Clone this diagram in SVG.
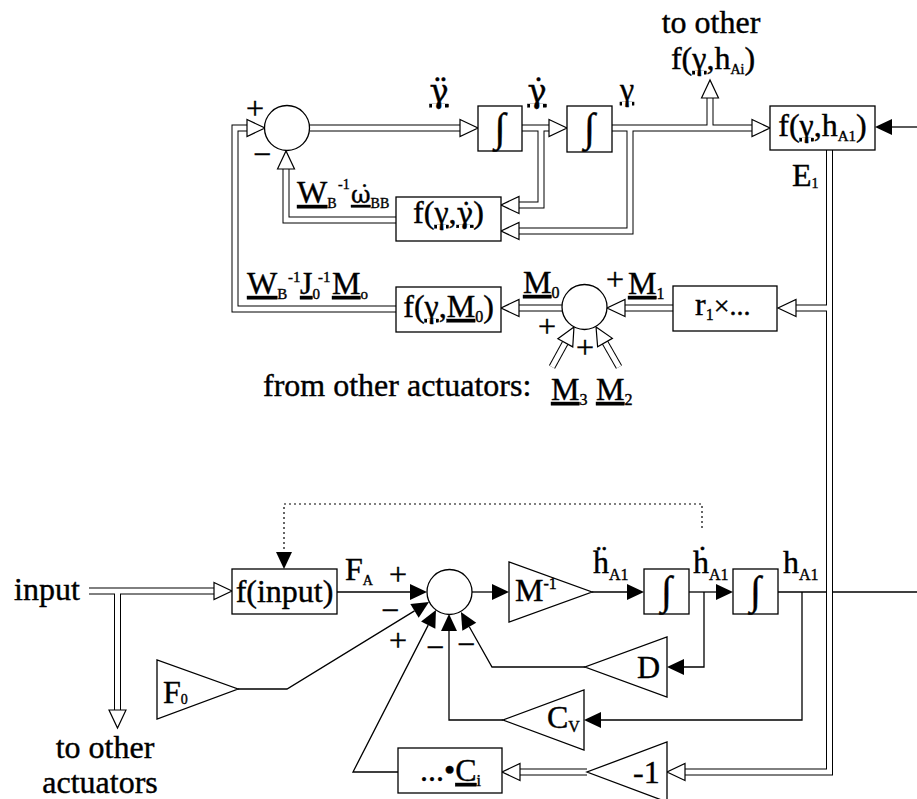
<svg xmlns="http://www.w3.org/2000/svg" width="917" height="799" viewBox="0 0 917 799">
<style>
.t{font-family:"Liberation Serif","DejaVu Serif",serif;font-size:32px;fill:#000;stroke:#000;stroke-width:0.4}
.g{font-family:"DejaVu Serif",serif}
.s{font-size:16px}
.u{text-decoration:underline;text-decoration-skip-ink:none}
.i{font-size:40px}
.box{fill:#fff;stroke:#000;stroke-width:1.3}
.ln{fill:none;stroke:#000;stroke-width:1.3}
.dot{fill:none;stroke:#000;stroke-width:1.2;stroke-dasharray:2 3}
.pb{fill:none;stroke:#000;stroke-width:7}
.pw{fill:none;stroke:#fff;stroke-width:5}
</style>
<defs>
<marker id="ho" markerUnits="userSpaceOnUse" markerWidth="20" markerHeight="20" refX="0" refY="9" orient="auto" overflow="visible"><path d="M0,0.5 L18,9 L0,17.5 Z" fill="#fff" stroke="#000" stroke-width="1.2"/></marker>
<marker id="hf" markerUnits="userSpaceOnUse" markerWidth="18" markerHeight="18" refX="0" refY="8" orient="auto" overflow="visible"><path d="M0,0 L17,8 L0,16 Z" fill="#000"/></marker>
</defs>
<rect width="917" height="799" fill="#fff"/>
<g id="connectors">
  <g id="thin">
    <path class="ln" d="M917,127 H892" marker-end="url(#hf)"/>
    <path class="ln" d="M337,592 H410" marker-end="url(#hf)"/>
    <path class="ln" d="M472,592 H492" marker-end="url(#hf)"/>
    <path class="ln" d="M592,592 H627" marker-end="url(#hf)"/>
    <path class="ln" d="M689,592 H716" marker-end="url(#hf)"/>
    <path class="ln" d="M778,592 H917"/>
    <path class="ln" d="M704,592 V667 H684" marker-end="url(#hf)"/>
    <path class="ln" d="M802,592 V720 H601" marker-end="url(#hf)"/>
    <path class="ln" d="M585,667 H492 L469.3,626.8" marker-end="url(#hf)"/>
    <path class="ln" d="M503,720 H449 V631" marker-end="url(#hf)"/>
    <path class="ln" d="M398,772 H353 L428.2,625.1" marker-end="url(#hf)"/>
    <path class="ln" d="M238,689 H287 L414.5,610.9" marker-end="url(#hf)"/>
    <path class="dot" d="M702,528 V504 H284 V552" marker-end="url(#hf)"/>
  </g>
  <g id="pipes-outline">
    <path class="pb" d="M309.5,128 H460"/>
    <path class="pb" d="M522,128 H549"/>
    <path class="pb" d="M541,128 V205 H519"/>
    <path class="pb" d="M612,128 H752"/>
    <path class="pb" d="M710,128 V98"/>
    <path class="pb" d="M630,128 V231 H519"/>
    <path class="pb" d="M396,220 H286 V169"/>
    <path class="pb" d="M396,309 H235 V128 H247"/>
    <path class="pb" d="M829.5,150 V772 H685"/>
    <path class="pb" d="M829.5,308 H796"/>
    <path class="pb" d="M673,308 H625"/>
    <path class="pb" d="M562,308 H519"/>
    <path class="pb" d="M552,367 L565.3,342.8"/>
    <path class="pb" d="M619,367 L605,342.6"/>
    <path class="pb" d="M89,591 H214"/>
    <path class="pb" d="M117.5,591 V710"/>
    <path class="pb" d="M587,772 H520"/>
  </g>
  <g id="pipes-inner">
    <path class="pw" d="M309.5,128 H460" marker-end="url(#ho)"/>
    <path class="pw" d="M522,128 H549" marker-end="url(#ho)"/>
    <path class="pw" d="M541,128 V205 H519" marker-end="url(#ho)"/>
    <path class="pw" d="M612,128 H752" marker-end="url(#ho)"/>
    <path class="pw" d="M710,128 V98" marker-end="url(#ho)"/>
    <path class="pw" d="M630,128 V231 H519" marker-end="url(#ho)"/>
    <path class="pw" d="M396,220 H286 V169" marker-end="url(#ho)"/>
    <path class="pw" d="M396,309 H235 V128 H247" marker-end="url(#ho)"/>
    <path class="pw" d="M829.5,150 V772 H685" marker-end="url(#ho)"/>
    <path class="pw" d="M829.5,308 H796" marker-end="url(#ho)"/>
    <path class="pw" d="M673,308 H625" marker-end="url(#ho)"/>
    <path class="pw" d="M562,308 H519" marker-end="url(#ho)"/>
    <path class="pw" d="M552,367 L565.3,342.8" marker-end="url(#ho)"/>
    <path class="pw" d="M619,367 L605,342.6" marker-end="url(#ho)"/>
    <path class="pw" d="M89,591 H214" marker-end="url(#ho)"/>
    <path class="pw" d="M117.5,591 V710" marker-end="url(#ho)"/>
    <path class="pw" d="M587,772 H520" marker-end="url(#ho)"/>
  </g>
</g>
<g id="sum1"><circle class="box" cx="287" cy="128" r="22.5"/></g>
<g id="int1"><rect class="box" x="478" y="106" width="44" height="45"/><text class="t i" x="500" y="141" text-anchor="middle">∫</text></g>
<g id="int2"><rect class="box" x="567" y="106" width="45" height="46"/><text class="t i" x="589.5" y="141" text-anchor="middle">∫</text></g>
<g id="f-gamma-hA1"><rect class="box" x="770" y="106" width="105" height="44"/><text class="t" x="822.5" y="136" text-anchor="middle">f(<tspan class="u">γ</tspan>,h<tspan font-size="15" dy="5">A1</tspan><tspan dy="-5">)</tspan></text></g>
<g id="f-gamma-gammadot"><rect class="box" x="396" y="197" width="105" height="44"/><text class="t" x="448.5" y="223" text-anchor="middle">f(<tspan class="u">γ</tspan>,<tspan class="u g" font-size="28">γ̇</tspan>)</text></g>
<g id="f-gamma-M0"><rect class="box" x="396" y="287" width="105" height="45"/><text class="t" x="448.5" y="317" text-anchor="middle">f(<tspan class="u">γ</tspan>,<tspan class="u">M</tspan><tspan class="s" dy="5">0</tspan><tspan dy="-5">)</tspan></text></g>
<g id="sum2"><circle class="box" cx="584.5" cy="307" r="22.5"/></g>
<g id="r1x"><rect class="box" x="673" y="286" width="104" height="45"/><text class="t" x="695" y="315">r<tspan class="s" dy="5">1</tspan><tspan font-size="28" dy="-5">×...</tspan></text></g>
<g id="f-input"><rect class="box" x="232" y="569" width="105" height="45"/><text class="t" x="284.5" y="602" text-anchor="middle">f(input)</text></g>
<g id="sum3"><circle class="box" cx="449.5" cy="592" r="22.5"/></g>
<g id="Minv"><polygon class="box" points="509,562 509,622 592,592"/><text class="t" x="515" y="601" font-size="28">M<tspan class="s" dy="-12">-1</tspan></text></g>
<g id="int3"><rect class="box" x="644" y="569" width="45" height="45"/><text class="t i" x="666.5" y="604" text-anchor="middle">∫</text></g>
<g id="int4"><rect class="box" x="733" y="569" width="45" height="45"/><text class="t i" x="755.5" y="604" text-anchor="middle">∫</text></g>
<g id="D"><polygon class="box" points="667,637 667,697 585,667"/><text class="t" x="637" y="678" font-size="30">D</text></g>
<g id="Cv"><polygon class="box" points="584,690 584,750 503,720"/><text class="t" x="547" y="728" font-size="30">C<tspan class="s" dy="4">V</tspan></text></g>
<g id="neg1"><polygon class="box" points="667,742 667,802 587,772"/><text class="t" x="633" y="783">-1</text></g>
<g id="Ci"><rect class="box" x="398" y="748" width="104" height="45"/><text class="t" x="420" y="781" font-size="30">...•<tspan class="u">C</tspan><tspan class="s" dy="5">i</tspan></text></g>
<g id="F0"><polygon class="box" points="157,660 157,719 238,689"/><text class="t" x="163" y="703" font-size="28">F<tspan font-size="14" dy="1">0</tspan></text></g>
<g id="labels">
  <text class="t" x="255" y="119" text-anchor="middle">+</text>
  <text class="t" x="262" y="165" text-anchor="middle">−</text>
  <text class="t u g" x="439" y="102" text-anchor="middle" font-size="24">γ̈</text>
  <text class="t u g" x="537" y="102" text-anchor="middle" font-size="24">γ̇</text>
  <text class="t u" x="627" y="100" text-anchor="middle" font-size="28">γ</text>
  <text class="t" x="711" y="33" text-anchor="middle">to other</text>
  <text class="t" x="713" y="69" text-anchor="middle">f(<tspan class="u">γ</tspan>,h<tspan font-size="14" dy="5">Ai</tspan><tspan dy="-5">)</tspan></text>
  <text class="t" x="792" y="186" font-size="30">E<tspan font-size="14" dy="2">1</tspan></text>
  <text class="t" x="297" y="203" font-size="28"><tspan class="u">W</tspan><tspan font-size="14" dy="5">B</tspan><tspan font-size="14" x="338" dy="-19">-1</tspan><tspan class="u g" font-size="24" x="351" dy="14">ω̇</tspan><tspan font-size="14" dy="5">BB</tspan></text>
  <text class="t" x="247" y="294" font-size="30"><tspan class="u">W</tspan><tspan font-size="15" dy="5">B</tspan><tspan font-size="15" x="288" dy="-17">-1</tspan><tspan class="u" x="300" dy="12">J</tspan><tspan font-size="15" dy="5">0</tspan><tspan font-size="15" x="318" dy="-17">-1</tspan><tspan class="u" x="332" dy="12">M</tspan><tspan font-size="15" dy="5">o</tspan></text>
  <text class="t" x="523" y="293" font-size="30"><tspan class="u">M</tspan><tspan class="s" dy="5">0</tspan></text>
  <text class="t" x="615" y="290" text-anchor="middle">+</text>
  <text class="t" x="628" y="294" font-size="30"><tspan class="u">M</tspan><tspan class="s" dy="5">1</tspan></text>
  <text class="t" x="547" y="337" text-anchor="middle">+</text>
  <text class="t" x="585" y="358" text-anchor="middle">+</text>
  <text class="t" x="263" y="396">from other actuators:</text>
  <text class="t" x="551" y="400" font-size="30"><tspan class="u">M</tspan><tspan class="s" dy="5">3</tspan></text>
  <text class="t" x="596" y="400" font-size="30"><tspan class="u">M</tspan><tspan class="s" dy="5">2</tspan></text>
  <text class="t" x="14" y="600">input</text>
  <text class="t" x="105" y="758" text-anchor="middle">to other</text>
  <text class="t" x="100" y="793" text-anchor="middle">actuators</text>
  <text class="t" x="345" y="580" font-size="30">F<tspan font-size="14" dy="5">A</tspan></text>
  <text class="t" x="398" y="585" text-anchor="middle">+</text>
  <text class="t" x="390" y="621" text-anchor="middle">−</text>
  <text class="t" x="398" y="651" text-anchor="middle">+</text>
  <text class="t" x="435" y="658" text-anchor="middle">−</text>
  <text class="t" x="466" y="655" text-anchor="middle">−</text>
  <text class="t" x="593" y="573" font-size="28">ḧ<tspan font-size="16" dy="7">A1</tspan></text>
  <text class="t" x="693" y="573" font-size="28">ḣ<tspan font-size="16" dy="7">A1</tspan></text>
  <text class="t" x="783" y="573" font-size="28">h<tspan font-size="16" dy="7">A1</tspan></text>
</g>
</svg>
